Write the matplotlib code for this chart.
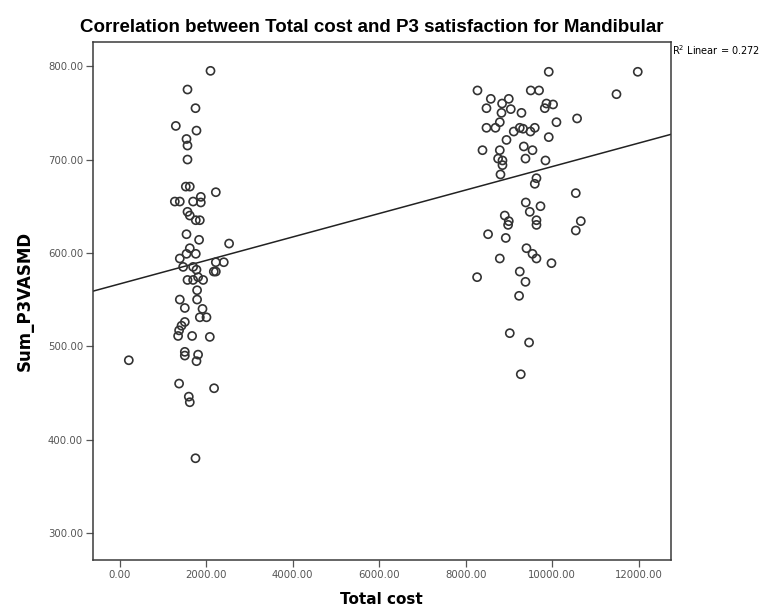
import numpy as np
import matplotlib.pyplot as plt

plt.rcParams['font.family'] = ['Liberation Sans', 'DejaVu Sans']

# left group (low cost)
cost_low = [2097, 1565, 1750, 1295, 1773, 1542, 1565, 1565, 1526, 1618,
            2220, 1272, 1387, 1695, 1873, 1873, 1565, 1618, 1757, 1850,
            1542, 1833, 2527, 1618, 1542, 1757, 1387, 1464, 1695, 1773,
            2220, 2404, 2220, 2173, 1565, 1695, 1926, 1810, 1787, 1387,
            1787, 1503, 1912, 1850, 2004, 1503, 1427, 1371, 1348, 1672,
            2081, 1503, 1503, 1810, 1773, 208, 1371, 2180, 1595, 1618, 1750]
vas_low = [795, 775, 755, 736, 731, 722, 715, 700, 671, 671,
           665, 655, 655, 655, 660, 654, 644, 640, 635, 635,
           620, 614, 610, 605, 599, 599, 594, 585, 585, 582,
           590, 590, 580, 580, 571, 571, 571, 574, 560, 550,
           550, 541, 540, 531, 531, 526, 522, 517, 511, 511,
           510, 494, 490, 491, 484, 485, 460, 455, 446, 440, 380]

# right group (high cost)
cost_high = [9918, 11976, 8270, 9502, 9694, 11484, 8578, 8994, 8839, 8478,
             9040, 9865, 10018, 9826, 9287, 8825, 10573, 10096, 8786, 8478,
             8686, 9248, 9324, 9595, 9495, 9109, 9918, 8941, 8386, 8786,
             9341, 9542, 8747, 8848, 8848, 9380, 9842, 8802, 9634, 9595,
             10543, 9387, 9727, 9479, 8901, 8994, 8978, 9634, 9634, 10659,
             10543, 8515, 8924, 9403, 9542, 9634, 8786, 9981, 8261, 9248,
             9380, 9232, 9017, 9463, 9271]
vas_high = [794, 794, 774, 774, 774, 770, 765, 765, 760, 755,
            754, 760, 759, 755, 750, 750, 744, 740, 740, 734,
            734, 734, 733, 734, 730, 730, 724, 721, 710, 710,
            714, 710, 701, 699, 694, 701, 699, 684, 680, 674,
            664, 654, 650, 644, 640, 634, 630, 635, 630, 634,
            624, 620, 616, 605, 599, 594, 594, 589, 574, 580,
            569, 554, 514, 504, 470]

r2_text = 'R$^2$ Linear = 0.272'
fit_intercept = 566.8
fit_slope = 0.01257

fig = plt.figure(figsize=(7.8, 6.15), dpi=100)
ax = fig.add_axes([0.119, 0.0894, 0.741, 0.842])

ax.scatter(cost_low + cost_high, vas_low + vas_high, s=34, facecolors='none',
           edgecolors='#333333', linewidths=1.2, zorder=3)

xl = np.array([-624, 12740])
ax.plot(xl, fit_intercept + fit_slope * xl, color='#222222', lw=1.1, zorder=2)

ax.set_xlim(-624, 12740)
ax.set_ylim(271, 825.7)
xt = np.arange(0, 12001, 2000)
yt = np.arange(300, 801, 100)
ax.set_xticks(xt)
ax.set_yticks(yt)
ax.set_xticklabels(['%.2f' % v for v in xt], family='DejaVu Sans')
ax.set_yticklabels(['%.2f' % v for v in yt], family='DejaVu Sans')
ax.tick_params(labelsize=7.3, colors='#555555', length=5, width=0.9, pad=2)
for s in ax.spines.values():
    s.set_color('#3a3a3a')
    s.set_linewidth(1.1)

ax.set_xlabel('Total cost', fontsize=11, fontweight='bold', labelpad=9,
              family='DejaVu Sans')
ax.set_ylabel('Sum_P3VASMD', fontsize=12, fontweight='bold', labelpad=10,
              family='DejaVu Sans')
fig.text(0.476, 0.956, 'Correlation between Total cost and P3 satisfaction for Mandibular',
         ha='center', va='center', fontsize=13.5, fontweight='bold')
fig.text(0.862, 0.918, r2_text, ha='left', va='center', fontsize=7,
         family='DejaVu Sans')

fig.savefig('out.png', dpi=100)
